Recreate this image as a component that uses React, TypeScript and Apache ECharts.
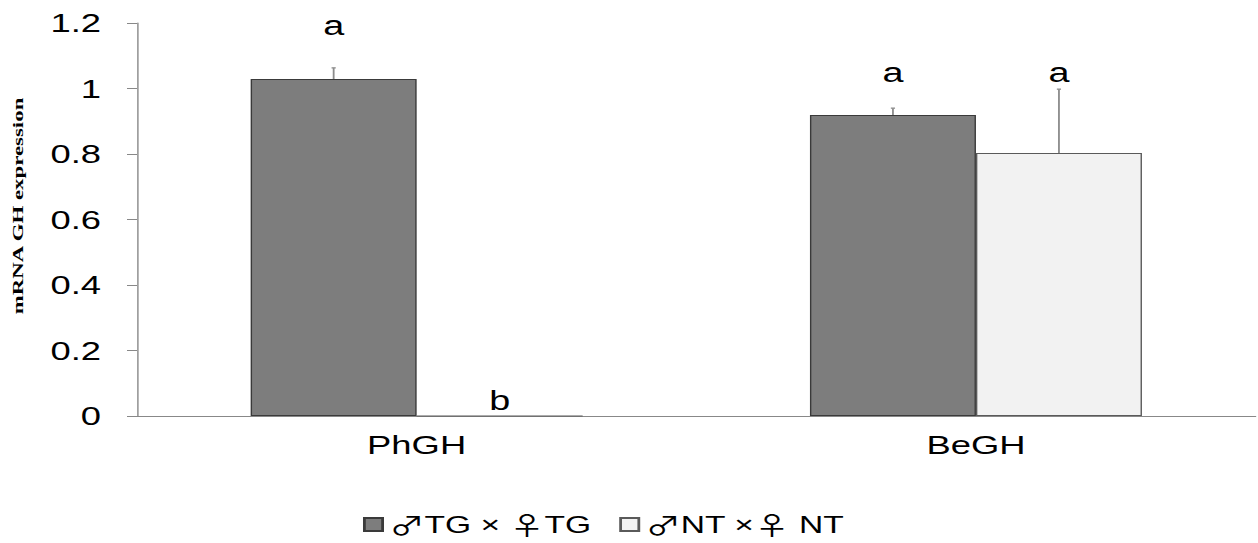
import React, { useEffect, useRef } from "react";
import * as echarts from "echarts";

const categories = ["PhGH", "BeGH"];
const seriesNames = ["♂TG × ♀TG", "♂NT ×♀ NT"];
const tgValues = [1.029, 0.919];
const ntValues = [0, 0.803];
const tgErrTop = [1.063, 0.94];
const ntErrTop = [null, 0.998];
const tgLetters = ["a", "a"];
const ntLetters = ["b", "a"];
const tgLetterY = [1.192, 1.048];
const ntLetterY = [0.046, 1.048];
const yTicks = [0, 0.2, 0.4, 0.6, 0.8, 1, 1.2];
const yAxisTitle = "mRNA GH expression";

// the reference picture is stretched horizontally; render narrower and stretch
const SX = 1.4;
const W = 1258;
const H = 543;
const IW = W / SX;
const FONT = "Liberation Sans, Arial, sans-serif";

export default function App() {
  const ref = useRef<HTMLDivElement>(null);
  useEffect(() => {
    if (!ref.current) return;
    const chart = echarts.init(ref.current, undefined, { renderer: "svg" });
    const barWidth = 166 / SX;
    const errSeries = (errs: (number | null)[], bases: number[], offset: number) => ({
      type: "custom",
      z: 5,
      renderItem: (params: any, api: any) => {
        const v = api.value(1);
        if (v == null || isNaN(v)) return null;
        const top = api.coord([api.value(0), v]);
        const base = api.coord([api.value(0), api.value(2)]);
        const x = top[0] + offset;
        return {
          type: "group",
          children: [
            { type: "line", shape: { x1: x, y1: base[1], x2: x, y2: top[1] }, style: { stroke: "#8c8c8c", lineWidth: 1.3 } },
            { type: "line", shape: { x1: x - 1.5, y1: top[1], x2: x + 1.5, y2: top[1] }, style: { stroke: "#8c8c8c", lineWidth: 1.3 } },
          ],
        };
      },
      data: errs.map((e, i) => [i, e, bases[i]]),
      tooltip: { show: false },
    });
    const letterSeries = (ys: number[], letters: string[], offset: number) => ({
      type: "custom",
      z: 6,
      renderItem: (params: any, api: any) => {
        const p = api.coord([api.value(0), api.value(1)]);
        return {
          type: "text",
          x: p[0] + offset,
          y: p[1],
          style: {
            text: letters[params.dataIndex],
            fontSize: 27,
            fontFamily: FONT,
            fill: "#000",
            align: "center",
            verticalAlign: "middle",
          },
        };
      },
      data: ys.map((y, i) => [i, y]),
    });
    const legendFormatter = (name: string) =>
      name.replace(/♂/g, "{s|♂}").replace(/♀/g, "{s|♀}");
    chart.setOption({
      animation: false,
      grid: { left: 137 / SX, right: 3 / SX, top: 23, bottom: 127 },
      legend: {
        left: 356 / SX,
        top: 507,
        itemWidth: 13,
        itemHeight: 13,
        itemGap: 20,
        icon: "rect",
        data: seriesNames,
        formatter: legendFormatter,
        textStyle: {
          fontSize: 24,
          lineHeight: 24,
          fontFamily: FONT,
          color: "#000",
          rich: {
            s: { fontSize: 25, lineHeight: 24, fontFamily: "Noto Sans CJK SC, DejaVu Sans, sans-serif", color: "#000" },
          },
        },
      },
      graphic: [
        {
          type: "text",
          x: 18 / SX,
          y: 206,
          rotation: Math.PI / 2,
          scaleX: 1.43,
          scaleY: 0.67,
          style: {
            text: yAxisTitle,
            fontSize: 16,
            fontWeight: "bold",
            fontFamily: "Liberation Serif, Times New Roman, serif",
            fill: "#000",
            align: "center",
            verticalAlign: "middle",
          },
        },
      ],
      xAxis: {
        type: "category",
        data: categories,
        axisLine: { lineStyle: { color: "#888", width: 1 } },
        axisTick: { show: false },
        axisLabel: { fontSize: 26, color: "#000", margin: 16, fontFamily: FONT },
      },
      yAxis: {
        type: "value",
        min: 0,
        max: 1.2,
        interval: 0.2,
        axisLine: { show: true, lineStyle: { color: "#888", width: 1 } },
        axisTick: { show: true, length: 10 / SX, lineStyle: { color: "#888" } },
        splitLine: { show: false },
        axisLabel: {
          fontSize: 26,
          color: "#000",
          margin: 36 / SX,
          fontFamily: FONT,
          formatter: (v: number) => {
            const t = yTicks.find((k) => Math.abs(k - v) < 1e-6);
            return t === undefined ? "" : String(t);
          },
        },
      },
      series: [
        {
          type: "bar",
          name: seriesNames[0],
          data: tgValues,
          barWidth,
          barGap: "0%",
          itemStyle: { color: "#7d7d7d", borderColor: "#3a3a3a", borderWidth: 1 },
        },
        {
          type: "bar",
          name: seriesNames[1],
          data: ntValues,
          barWidth,
          itemStyle: { color: "#f2f2f2", borderColor: "#5a5a5a", borderWidth: 1 },
        },
        errSeries(tgErrTop, tgValues, -barWidth / 2),
        errSeries(ntErrTop, ntValues, barWidth / 2),
        letterSeries(tgLetterY, tgLetters, -barWidth / 2),
        letterSeries(ntLetterY, ntLetters, barWidth / 2),
      ],
    });
    return () => chart.dispose();
  }, []);
  return (
    <div
      style={{ position: "fixed", left: 0, top: 0, width: W, height: H, background: "#fff", overflow: "hidden" }}
    >
      <div
        ref={ref}
        style={{
          width: IW,
          height: H,
          transform: `scaleX(${SX})`,
          transformOrigin: "0 0",
        }}
      />
    </div>
  );
}
